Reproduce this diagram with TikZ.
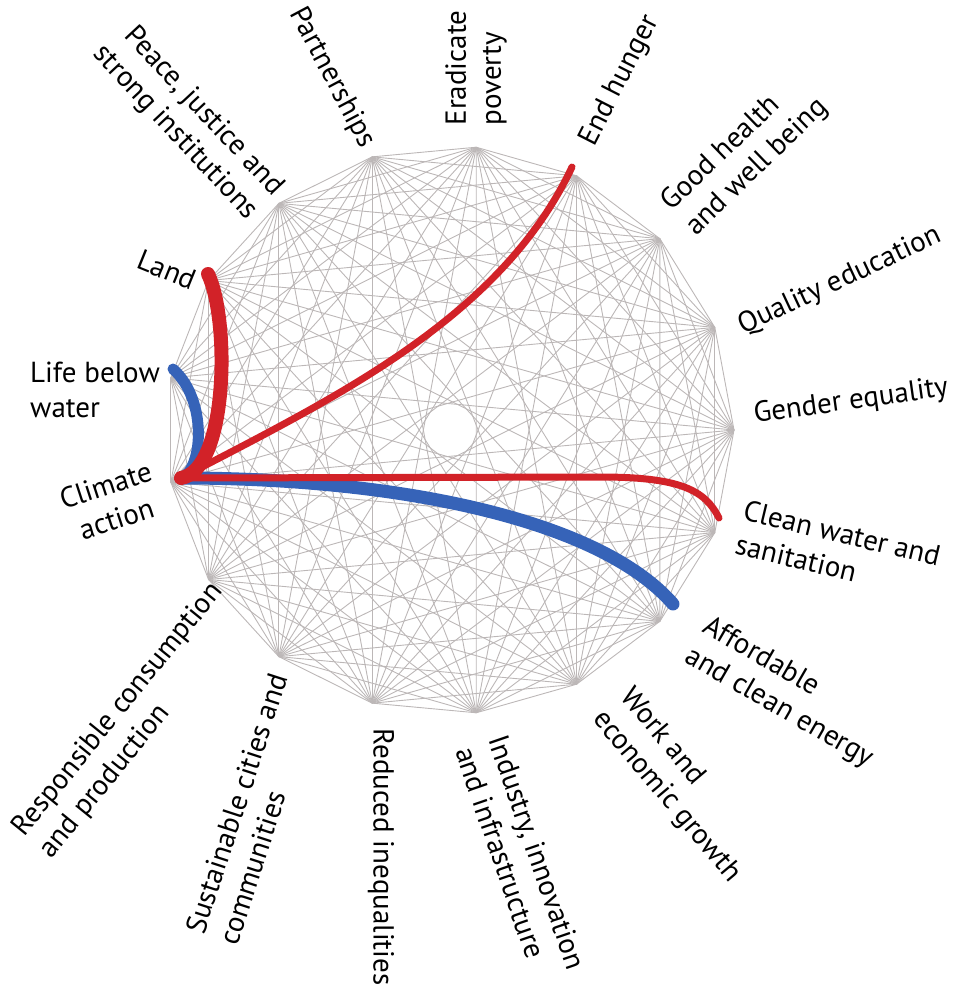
\documentclass[tikz,border=0pt]{standalone}
\usepackage{fontspec}
\setmainfont{PT Sans}
\definecolor{webgrey}{RGB}{188,183,183}
\definecolor{linkred}{RGB}{210,34,40}
\definecolor{linkblue}{RGB}{54,99,184}
\begin{document}
\begin{tikzpicture}[x=1pt,y=-1pt,
  web/.style={draw=webgrey, line width=0.9pt},
  lab/.style={inner sep=0pt, font=\fontsize{29}{35}\selectfont, text=black},
  redlink/.style={draw=linkred, line cap=round},
  bluelink/.style={draw=linkblue, line cap=round}]
\useasboundingbox (0,0) rectangle (954,988);
\foreach \k in {0,...,16}{
  \pgfmathsetmacro\ang{-\k*360/17}
  \coordinate (v\k) at ([shift={(450,430)}]\ang:284);
}
\foreach \i in {0,...,15}{
  \pgfmathtruncatemacro\jstart{\i+1}
  \foreach \j in {\jstart,...,16}{
    \draw[web] (v\i) -- (v\j);
  }
}
% highlighted links
\coordinate (cHub) at (181,478);
\coordinate (eAff) at (673,604);
\coordinate (eLife) at (173,369);
\coordinate (eLand) at (208,274);
\coordinate (eHunger) at (572,167);
\coordinate (mWater) at (600,477);
\coordinate (eWater) at (719,518);
\draw[bluelink, line width=13pt] (cHub) .. controls (400,478) and (600,520) .. (eAff);
\draw[bluelink, line width=11pt] (cHub) .. controls (203,470) and (208,400) .. (eLife);
\draw[redlink, line width=14pt] (cHub) .. controls (228,470) and (230,320) .. (eLand);
\draw[redlink, line width=7pt] (cHub) .. controls (330,400) and (500,320) .. (eHunger);
\draw[redlink, line width=7pt] (cHub) -- (mWater) .. controls (680,477) and (705,490) .. (eWater);
% labels
\node[lab, rotate=8] (l0) at (851,402) {Gender equality};
\node[lab, rotate=25] (l1) at (840,281) {Quality education};
\node[lab, rotate=44, align=left] (l2) at (745,155) {Good health\\and well being};
\node[lab, rotate=63] (l3) at (620,81) {End hunger};
\node[lab, rotate=90, align=left] (l4) at (476,68) {Eradicate\\poverty};
\node[lab, rotate=-62] (l5) at (332,78) {Partnerships};
\node[lab, rotate=-47, align=right] (l6) at (188,121) {Peace, justice and\\strong institutions};
\node[lab, rotate=-22] (l7) at (167,270) {Land};
\node[lab, align=left] (l8) at (95,390) {Life below\\water};
\node[lab, rotate=18, align=center] (l9) at (111,502) {Climate\\action};
\node[lab, rotate=51, align=left] (l10) at (132,721) {Responsible consumption\\and production};
\node[lab, rotate=72, align=left] (l11) at (253,809) {Sustainable cities and\\communities};
\node[lab, rotate=-90] (l12) at (381,857) {Reduced inequalities};
\node[lab, rotate=-71, align=left] (l13) at (521,858) {Industry, innovation\\and infrastructure};
\node[lab, rotate=-50, align=left] (l14) at (680,786) {Work and\\economic growth};
\node[lab, rotate=-30, align=left] (l15) at (788,693) {Affordable\\and clean energy};
\node[lab, rotate=-13.5, align=left] (l16) at (838,550) {Clean water and\\sanitation};
\end{tikzpicture}
\end{document}
